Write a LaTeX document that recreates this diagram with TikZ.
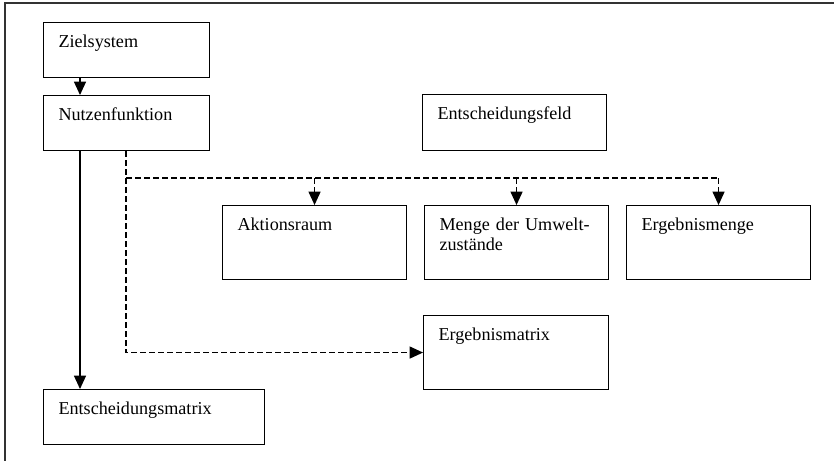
\documentclass[tikz,border=0pt]{standalone}
\usepackage{fontspec}
\setmainfont{Liberation Serif}
\usetikzlibrary{arrows.meta}
\tikzset{
  box/.style={draw, line width=0.8pt, anchor=north west, inner xsep=11.25pt, inner ysep=0pt,
    align=left, text height=18.75pt, font=\fontsize{13.6}{15}\selectfont},
  flat/.style={text width=102pt, text depth=22.5pt},
  tall/.style={text width=115.5pt, text depth=36.75pt},
  tri/.style={-{Triangle[length=10pt,width=9pt]}},
  solidline/.style={line width=0.9pt},
  dashline/.style={line width=0.9pt, dash pattern=on 4.5pt off 2.25pt}
}
\begin{document}
\begin{tikzpicture}[x=0.75pt,y=0.75pt,yscale=-1,xscale=1]
\useasboundingbox (0,0) rectangle (834,461);
%Frame
\draw [line width=1pt, black!80] (834,3) -- (5,3) -- (5,461);
%Boxes
\node (ziel) [box, flat] at (43,22) {Zielsystem};
\node (nutz) [box, flat] at (43,95) {Nutzenfunktion};
\node (feld) [box, text width=115.5pt, text depth=23.25pt] at (422,94) {Entscheidungsfeld};
\node (akt) [box, tall] at (222,205) {Aktionsraum};
\node (menge) [box, tall] at (424,205) {Menge der Umwelt-\\zustände};
\node (ergmenge) [box, tall] at (626,205) {Ergebnismenge};
\node (ergmatrix) [box, text width=116.25pt, text depth=36.75pt] at (423,315) {Ergebnismatrix};
\node (entmatrix) [box, text width=143.25pt, text depth=22.5pt] at (43,389) {Entscheidungsmatrix};
%Helper points
\coordinate (stem) at (80,0);
\coordinate (split) at (126,178);
%Solid arrows
\draw [solidline, tri] (stem |- ziel.south) -- (stem |- nutz.north);
\draw [solidline, tri] (stem |- nutz.south) -- (stem |- entmatrix.north);
%Dashed arrows
\draw [dashline] (split |- nutz.south) -- (split) -- (split -| ergmenge.north);
\foreach \n in {akt,menge,ergmenge}
  \draw [dashline, tri] (split -| \n.north) -- (\n.north);
\draw [dashline, tri] (split) |- (ergmatrix.west);
\end{tikzpicture}
\end{document}
